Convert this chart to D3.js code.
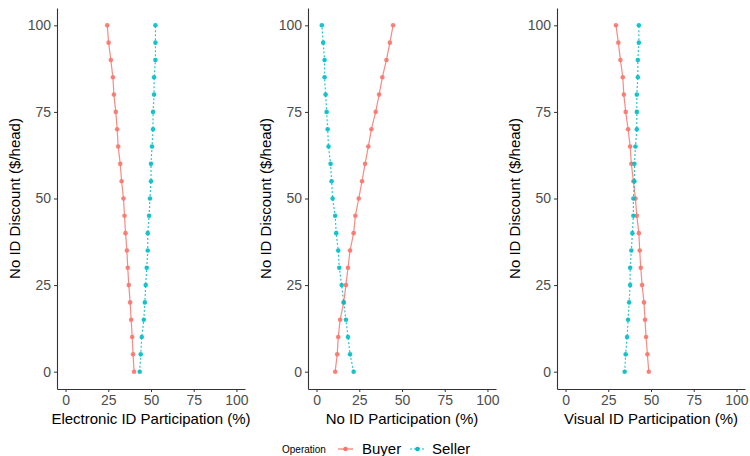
<!DOCTYPE html>
<html>
<head>
<meta charset="utf-8">
<script src="https://cdn.jsdelivr.net/npm/d3@7"></script>
<style>
  body { margin: 0; background: #fff; }
  svg { display: block; font-family: "Liberation Sans", Arial, sans-serif; }
</style>
</head>
<body>
<div id="chart"></div>
<script>
// no ID discount ($/head), shared y values
const discount = [0, 5, 10, 15, 20, 25, 30, 35, 40, 45, 50, 55, 60, 65, 70, 75, 80, 85, 90, 95, 100];

const electronicBuyer = [40.1, 39.5, 39, 38.4, 37.8, 37, 36.4, 35.9, 35.1, 34.5, 33.9, 32.8, 32, 30.8, 30.2, 29.4, 28.3, 27.7, 26.5, 25.2, 24.4];
const electronicSeller = [43.4, 44, 44.6, 45.8, 46.4, 46.9, 47.5, 48.1, 48.1, 48.9, 49.4, 50, 50, 50.6, 51.2, 51.2, 51.8, 51.8, 52.6, 52.6, 52.6];

const noIdBuyer = [10.9, 12.1, 12.7, 13.8, 15.9, 17.2, 18.4, 19.6, 21.7, 22.7, 24.7, 26.6, 28.4, 30.3, 32.1, 34.6, 36.6, 38.5, 40.9, 42.9, 44.8];
const noIdSeller = [21.7, 19.6, 18.4, 17.2, 15.9, 14.7, 13.3, 12.7, 11.5, 10.9, 9.4, 8.8, 8.2, 7.0, 6.5, 5.9, 5.3, 4.7, 4.7, 3.9, 3.1];

const visualBuyer = [48.7, 47.9, 47.1, 46.5, 45.9, 44.8, 44.0, 43.4, 42.9, 41.7, 40.9, 39.7, 38.5, 37.8, 36.6, 35.2, 34.1, 33.5, 32.1, 30.9, 29.5];
const visualSeller = [34.6, 35.2, 36, 36.6, 37.2, 37.8, 37.8, 38.5, 39.1, 39.7, 39.7, 40.3, 40.3, 40.9, 41.7, 41.7, 41.7, 42.3, 42.3, 42.9, 42.9];

const xTicks = [0, 25, 50, 75, 100];
const yTicks = [0, 25, 50, 75, 100];
const operations = ["Buyer", "Seller"];
const xTitles = ["Electronic ID Participation (%)", "No ID Participation (%)", "Visual ID Participation (%)"];
const yTitle = "No ID Discount ($/head)";

const panels = [
  { title: xTitles[0], buyer: electronicBuyer, seller: electronicSeller },
  { title: xTitles[1], buyer: noIdBuyer, seller: noIdSeller },
  { title: xTitles[2], buyer: visualBuyer, seller: visualSeller }
];

const width = 750, height = 456;
const colors = { Buyer: "#F8766D", Seller: "#00BFC4" };
const dashes = { Buyer: null, Seller: "2,2" };

const svg = d3.select("#chart").append("svg")
  .attr("width", width).attr("height", height);

const panelLeft = [57, 308, 557];
const panelWidth = 188;
const plotTop = 8, plotBottom = 389;

const y = d3.scaleLinear().domain([-5, 105]).range([plotBottom, plotTop]);

panels.forEach((p, i) => {
  const x = d3.scaleLinear().domain([-5, 105]).range([panelLeft[i], panelLeft[i] + panelWidth]);
  const g = svg.append("g");

  // axes
  const xAxis = g.append("g")
    .attr("transform", `translate(0,${plotBottom})`)
    .call(d3.axisBottom(x).tickValues(xTicks).tickSize(3).tickPadding(3).tickSizeOuter(0));
  const yAxis = g.append("g")
    .attr("transform", `translate(${panelLeft[i]},0)`)
    .call(d3.axisLeft(y).tickValues(yTicks).tickSize(3).tickPadding(3).tickSizeOuter(0));

  [xAxis, yAxis].forEach(a => {
    a.select(".domain").attr("stroke", "#333").attr("stroke-width", 1.1);
    a.selectAll(".tick line").attr("stroke", "#333");
    a.selectAll(".tick text").attr("fill", "#4D4D4D").style("font-size", "14px")
      .style("font-family", "Liberation Sans, Arial, sans-serif");
  });

  // titles
  g.append("text")
    .attr("x", panelLeft[i] + panelWidth / 2)
    .attr("y", 424)
    .attr("text-anchor", "middle")
    .style("font-size", "15px")
    .attr("fill", "#000")
    .text(p.title);

  g.append("text")
    .attr("transform", `translate(${panelLeft[i] - 37},${(plotTop + plotBottom) / 2}) rotate(-90)`)
    .attr("text-anchor", "middle")
    .style("font-size", "15px")
    .attr("fill", "#000")
    .text(yTitle);

  // series
  operations.forEach(op => {
    const vals = op === "Buyer" ? p.buyer : p.seller;
    const pts = discount.map((d, k) => ({ d: d, v: vals[k] }));
    const line = d3.line().x(e => x(e.v)).y(e => y(e.d));

    g.append("path")
      .datum(pts)
      .attr("fill", "none")
      .attr("stroke", colors[op])
      .attr("stroke-width", 1.2)
      .attr("stroke-opacity", 0.85)
      .attr("stroke-dasharray", dashes[op])
      .attr("d", line);

    g.selectAll(null)
      .data(pts)
      .join("circle")
      .attr("cx", e => x(e.v))
      .attr("cy", e => y(e.d))
      .attr("r", 2.3)
      .attr("fill", colors[op])
      .attr("fill-opacity", 0.9);
  });
});

// legend
const legend = svg.append("g").attr("transform", "translate(0,449)");
legend.append("text")
  .attr("x", 282).attr("y", 0).attr("dy", "0.35em")
  .style("font-size", "10px")
  .attr("fill", "#000")
  .text("Operation");

const legendKeys = [
  { op: "Buyer", x0: 338, tx: 362 },
  { op: "Seller", x0: 410, tx: 432 }
];
legendKeys.forEach(k => {
  legend.append("line")
    .attr("x1", k.x0).attr("x2", k.x0 + 15)
    .attr("y1", 0).attr("y2", 0)
    .attr("stroke", colors[k.op])
    .attr("stroke-width", 1.2)
    .attr("stroke-dasharray", dashes[k.op]);
  legend.append("circle")
    .attr("cx", k.x0 + 7.5).attr("cy", 0).attr("r", 2.3)
    .attr("fill", colors[k.op]);
  legend.append("text")
    .attr("x", k.tx).attr("y", 0).attr("dy", "0.35em")
    .style("font-size", "15px")
    .attr("fill", "#000")
    .text(k.op);
});
</script>
</body>
</html>
